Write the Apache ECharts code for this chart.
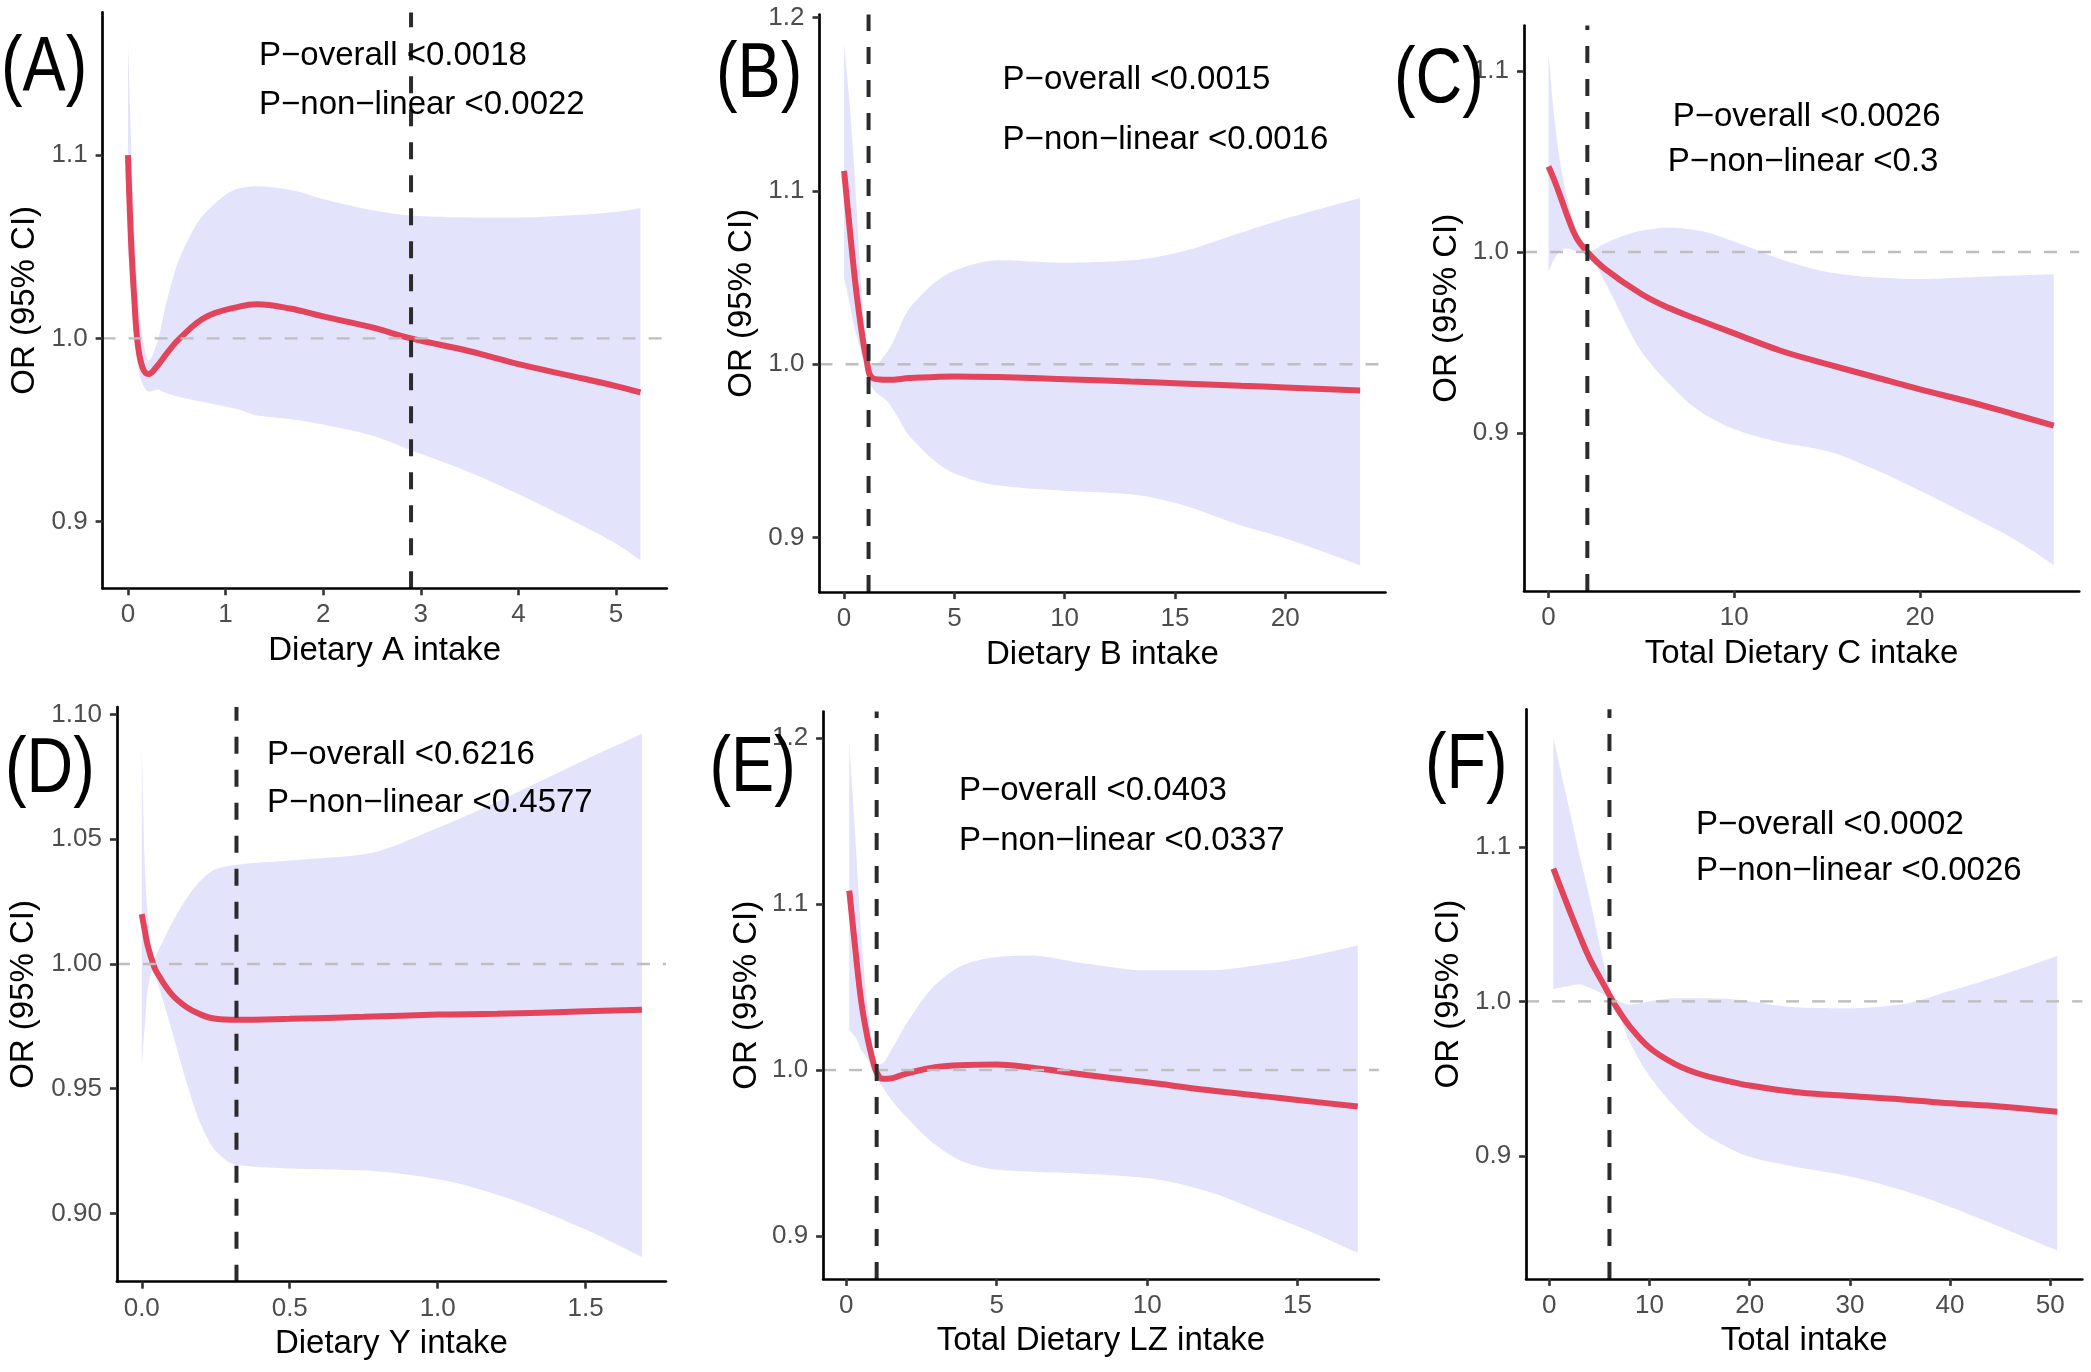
<!DOCTYPE html>
<html><head><meta charset="utf-8">
<script src="https://cdn.jsdelivr.net/npm/echarts@6/dist/echarts.min.js"></script>
<style>html,body{margin:0;padding:0;background:#fff}#c{width:2091px;height:1372px}</style>
</head><body><div id="c"></div>
<script>
// ---------- data ----------
// Panel A
const xA   = [0, 0.03, 0.065, 0.1, 0.15, 0.21, 0.3, 0.4, 0.53, 0.8, 1.15, 1.32, 1.66, 2.0, 2.5, 2.9, 3.5, 4.0, 4.5, 5.0, 5.25];
const fitA = [1.100, 1.055, 1.021, 0.997, 0.984, 0.9806, 0.985, 0.992, 1.000, 1.0117, 1.0175, 1.0186, 1.0163, 1.012, 1.006, 1.000, 0.993, 0.986, 0.980, 0.974, 0.9705];
const hiA  = [1.162, 1.11, 1.06, 1.025, 1.0, 0.988, 0.998, 1.021, 1.044, 1.069, 1.082, 1.083, 1.081, 1.076, 1.070, 1.067, 1.066, 1.066, 1.067, 1.069, 1.071];
const loA  = [1.05, 1.03, 1.005, 0.985, 0.975, 0.971, 0.972, 0.970, 0.968, 0.965, 0.961, 0.958, 0.956, 0.953, 0.947, 0.939, 0.927, 0.915, 0.902, 0.888, 0.879];
const cutA = 2.9;
// Panel B
const xB   = [0, 0.25, 0.5, 0.75, 1.0, 1.3, 2, 3, 5, 7, 10, 13, 15, 18, 20, 23.4];
const fitB = [1.1116, 1.079, 1.048, 1.023, 1.004, 0.992, 0.991, 0.992, 0.993, 0.9926, 0.9914, 0.990, 0.9891, 0.9876, 0.9866, 0.9848];
const hiB  = [1.185, 1.15, 1.105, 1.05, 1.01, 0.999, 1.008, 1.033, 1.054, 1.06, 1.0586, 1.06, 1.064, 1.076, 1.084, 1.096];
const loB  = [1.05, 1.035, 1.02, 1.008, 0.996, 0.986, 0.978, 0.958, 0.937, 0.930, 0.927, 0.925, 0.920, 0.907, 0.8995, 0.884];
const cutB = 1.11;
// Panel C
const xC   = [0, 0.3, 0.7, 1.0, 1.5, 2.09, 3, 5, 6.5, 8, 10, 12.5, 15, 17.5, 20, 22.5, 25, 27.2];
const fitC = [1.0473, 1.040, 1.029, 1.0203, 1.008, 1.000, 0.991, 0.9768, 0.969, 0.9628, 0.955, 0.9454, 0.938, 0.931, 0.924, 0.9176, 0.9104, 0.904];
const hiC  = [1.110, 1.075, 1.045, 1.030, 1.012, 1.000, 1.0046, 1.0118, 1.0135, 1.012, 1.0058, 0.996, 0.989, 0.986, 0.985, 0.986, 0.987, 0.9877];
const loC  = [0.989, 0.996, 1.001, 1.002, 1.0005, 0.9995, 0.984, 0.945, 0.927, 0.913, 0.902, 0.8947, 0.8899, 0.880, 0.868, 0.855, 0.8415, 0.827];
const cutC = 2.09;
// Panel D
const xD   = [0, 0.01, 0.02, 0.04, 0.05, 0.1, 0.15, 0.2, 0.25, 0.32, 0.5, 0.75, 1.0, 1.2, 1.5, 1.69];
const fitD = [1.020, 1.0135, 1.0074, 0.9995, 0.9968, 0.988, 0.9828, 0.9797, 0.978, 0.9776, 0.978, 0.9788, 0.9797, 0.980, 0.981, 0.9816];
const hiD  = [1.086, 1.04, 1.02, 1.002, 1.004, 1.016, 1.026, 1.0336, 1.038, 1.0398, 1.0415, 1.044, 1.0546, 1.065, 1.082, 1.0923];
const loD  = [0.960, 0.975, 0.990, 0.998, 0.994, 0.974, 0.953, 0.9356, 0.925, 0.9194, 0.918, 0.9172, 0.9137, 0.9075, 0.8935, 0.8825];
const cutD = 0.32;
// Panel E
const xE   = [0.1, 0.3, 0.5, 0.7, 0.9, 1.0, 1.2, 1.5, 2, 3, 4, 5, 6, 8, 10, 12, 14, 15, 17];
const fitE = [1.108, 1.073, 1.041, 1.020, 1.0045, 0.999, 0.9947, 0.995, 0.9979, 1.0018, 1.003, 1.0033, 1.0018, 0.997, 0.9926, 0.988, 0.984, 0.982, 0.978];
const hiE  = [1.197, 1.14, 1.08, 1.04, 1.012, 1.003, 1.004, 1.012, 1.028, 1.052, 1.064, 1.068, 1.069, 1.064, 1.060, 1.060, 1.064, 1.067, 1.075];
const loE  = [1.024, 1.02, 1.012, 1.007, 0.999, 0.995, 0.990, 0.982, 0.9716, 0.9545, 0.944, 0.940, 0.939, 0.9375, 0.935, 0.927, 0.913, 0.906, 0.890];
const cutE = 1.01;
// Panel F
const xF   = [0.4, 2, 3, 4, 5.5, 6.5, 8, 10, 12.5, 15, 17.5, 20, 25, 30, 35, 40, 45, 50.7];
const fitF = [1.0859, 1.059, 1.043, 1.028, 1.010, 0.9983, 0.984, 0.970, 0.9596, 0.953, 0.9489, 0.9455, 0.941, 0.9387, 0.9367, 0.934, 0.932, 0.9285];
const hiF  = [1.1706, 1.124, 1.095, 1.0675, 1.023, 1.002, 0.998, 1.000, 1.002, 1.002, 1.0017, 1.000, 0.996, 0.9955, 0.998, 1.0068, 1.0167, 1.0294];
const loF  = [1.008, 1.010, 1.011, 1.0088, 1.004, 0.9975, 0.974, 0.9517, 0.932, 0.9164, 0.9065, 0.8994, 0.8924, 0.8867, 0.8782, 0.867, 0.854, 0.8387];
const cutF = 6.0;

const REF_OR = 1.0;

// tick labels
const xTicksA = [0, 1, 2, 3, 4, 5];
const xTicksB = [0, 5, 10, 15, 20];
const xTicksC = [0, 10, 20];
const xTicksD = [0.0, 0.5, 1.0, 1.5];
const xTicksE = [0, 5, 10, 15];
const xTicksF = [0, 10, 20, 30, 40, 50];
const yTicksA = [0.9, 1.0, 1.1];
const yTicksB = [0.9, 1.0, 1.1, 1.2];
const yTicksC = [0.9, 1.0, 1.1];
const yTicksD = [0.90, 0.95, 1.00, 1.05, 1.10];
const yTicksE = [0.9, 1.0, 1.1, 1.2];
const yTicksF = [0.9, 1.0, 1.1];

// texts
const xNames = ['Dietary A intake', 'Dietary B intake', 'Total Dietary C intake', 'Dietary Y intake', 'Total Dietary LZ intake', 'Total intake'];
const yName = 'OR (95% CI)';
const panelTags = ['(A)', '(B)', '(C)', '(D)', '(E)', '(F)'];
const pOverall = ['P\u2212overall <0.0018', 'P\u2212overall <0.0015', 'P\u2212overall <0.0026', 'P\u2212overall <0.6216', 'P\u2212overall <0.0403', 'P\u2212overall <0.0002'];
const pNonLinear = ['P\u2212non\u2212linear <0.0022', 'P\u2212non\u2212linear <0.0016', 'P\u2212non\u2212linear <0.3', 'P\u2212non\u2212linear <0.4577', 'P\u2212non\u2212linear <0.0337', 'P\u2212non\u2212linear <0.0026'];

// ---------- layout / style ----------
const FONT = "'Liberation Sans', Arial, Helvetica, sans-serif";
const RIBBON = '#E3E3FB';
const RED = '#E2445C';
const SMOOTH = 0.4;

const panels = [
  { x:xA, fit:fitA, hi:hiA, lo:loA, cut:cutA, xt:xTicksA, yt:yTicksA, xd:0, yd:1,
    g:[102.6, 12.4, 564.2, 575.9], xr:[-0.26, 5.52], yr:[0.8637, 1.1778], yGap:61,
    tag:[1, 69.5], p1:[259, 56.3], p2:[259, 105] },
  { x:xB, fit:fitB, hi:hiB, lo:loB, cut:cutB, xt:xTicksB, yt:yTicksB, xd:0, yd:1,
    g:[819.5, 14.6, 566, 577.5], xr:[-1.115, 24.55], yr:[0.8685, 1.2018], yGap:61,
    tag:[716, 76], p1:[1002.6, 80.3], p2:[1002.6, 140.3] },
  { x:xC, fit:fitC, hi:hiC, lo:loC, cut:cutC, xt:xTicksC, yt:yTicksC, xd:0, yd:1,
    g:[1524, 25.5, 555.2, 565.5], xr:[-1.32, 28.57], yr:[0.8125, 1.1253], yGap:61,
    tag:[1394, 80.3], p1:[1672.7, 117.2], p2:[1667.8, 162] },
  { x:xD, fit:fitD, hi:hiD, lo:loD, cut:cutD, xt:xTicksD, yt:yTicksD, xd:1, yd:2,
    g:[116.9, 707.1, 549, 574.6], xr:[-0.084, 1.771], yr:[0.8726, 1.103], yGap:76,
    tag:[5, 770.6], p1:[267, 755.4], p2:[267, 803.2] },
  { x:xE, fit:fitE, hi:hiE, lo:loE, cut:cutE, xt:xTicksE, yt:yTicksE, xd:0, yd:1,
    g:[823.1, 711.5, 555.7, 567.4], xr:[-0.77, 17.70], yr:[0.8743, 1.2158], yGap:60,
    tag:[709.5, 769.5], p1:[958.9, 791], p2:[958.9, 841] },
  { x:xF, fit:fitF, hi:hiF, lo:loF, cut:cutF, xt:xTicksF, yt:yTicksF, xd:0, yd:1,
    g:[1526.1, 709.3, 556.2, 569.6], xr:[-2.32, 53.2], yr:[0.8204, 1.189], yGap:61,
    tag:[1425, 766.3], p1:[1695.9, 825], p2:[1695.9, 870.6] }
];

const pairs = (xs, ys) => xs.map((x, k) => [x, ys[k]]);

// Monotone cubic (Fritsch-Carlson) rendering of a projected boundary in pixel space.
function smoothEdge(pts) {
  const n = pts.length;
  if (n < 3) return pts.slice();
  const d = [], m = new Array(n);
  for (let k = 0; k < n - 1; k++) {
    d.push((pts[k + 1][1] - pts[k][1]) / (pts[k + 1][0] - pts[k][0]));
  }
  m[0] = d[0]; m[n - 1] = d[n - 2];
  for (let k = 1; k < n - 1; k++) {
    m[k] = (d[k - 1] * d[k] <= 0) ? 0 : 2 * d[k - 1] * d[k] / (d[k - 1] + d[k]);
  }
  const out = [pts[0]];
  const STEPS = 10;
  for (let k = 0; k < n - 1; k++) {
    const x0 = pts[k][0], y0 = pts[k][1], x1 = pts[k + 1][0], y1 = pts[k + 1][1], h = x1 - x0;
    for (let s = 1; s <= STEPS; s++) {
      const t = s / STEPS, t2 = t * t, t3 = t2 * t;
      const h00 = 2 * t3 - 3 * t2 + 1, h10 = t3 - 2 * t2 + t, h01 = -2 * t3 + 3 * t2, h11 = t3 - t2;
      out.push([x0 + t * h, h00 * y0 + h10 * h * m[k] + h01 * y1 + h11 * h * m[k + 1]]);
    }
  }
  return out;
}

const grids = [], xAxes = [], yAxes = [], series = [], texts = [];
panels.forEach((p, i) => {
  grids.push({ left:p.g[0], top:p.g[1], width:p.g[2], height:p.g[3], containLabel:false, outerBoundsMode:'none' });
  xAxes.push({
    type:'value', gridIndex:i, min:p.xr[0], max:p.xr[1], z:10,
    axisLine:{ show:true, onZero:false, lineStyle:{ color:'#000', width:2.7 } },
    axisTick:{ show:true, length:7, customValues:p.xt, lineStyle:{ color:'#333', width:2.6 } },
    axisLabel:{ show:true, customValues:p.xt, formatter:v => Number(v).toFixed(p.xd), color:'#4D4D4D', fontSize:26, fontFamily:FONT, margin:14 },
    splitLine:{ show:false },
    name:xNames[i], nameLocation:'middle', nameGap:46, nameMoveOverlap:false,
    nameTextStyle:{ fontSize:33, color:'#000', fontFamily:FONT }
  });
  yAxes.push({
    type:'value', gridIndex:i, min:p.yr[0], max:p.yr[1], z:10,
    axisLine:{ show:true, onZero:false, lineStyle:{ color:'#000', width:2.7 } },
    axisTick:{ show:true, length:7, customValues:p.yt, lineStyle:{ color:'#333', width:2.6 } },
    axisLabel:{ show:true, customValues:p.yt, formatter:v => Number(v).toFixed(p.yd), color:'#4D4D4D', fontSize:26, fontFamily:FONT, margin:15 },
    splitLine:{ show:false },
    name:yName, nameLocation:'middle', nameGap:p.yGap, nameRotate:90, nameMoveOverlap:false,
    nameTextStyle:{ fontSize:33, color:'#000', fontFamily:FONT }
  });
  // 95% CI ribbon between lower and upper bounds
  series.push({
    type:'custom', xAxisIndex:i, yAxisIndex:i, data:[[p.x[0], p.lo[0]]], silent:true, z:1, animation:false,
    renderItem:(params, api) => {
      const up = smoothEdge(p.x.map((x, k) => api.coord([x, p.hi[k]])));
      const dn = smoothEdge(p.x.map((x, k) => api.coord([x, p.lo[k]]))).reverse();
      return { type:'polygon', shape:{ points: up.concat(dn) }, style:{ fill:RIBBON, stroke:null } };
    }
  });
  // fitted OR
  series.push({ type:'line', xAxisIndex:i, yAxisIndex:i, data:pairs(p.x, p.fit), symbol:'none', showSymbol:false,
    smooth:SMOOTH, lineStyle:{ color:RED, width:6 }, silent:true, z:3, animation:false });
  // reference line OR = 1
  series.push({ type:'line', xAxisIndex:i, yAxisIndex:i, data:[[p.xr[0], REF_OR], [p.xr[1], REF_OR]], symbol:'none',
    lineStyle:{ color:'#BEBEBE', width:2.4, type:[13, 13] }, silent:true, z:4, animation:false });
  // cut-off vertical dashed line
  series.push({ type:'line', xAxisIndex:i, yAxisIndex:i, data:[[p.cut, p.yr[0]], [p.cut, p.yr[1]]], symbol:'none',
    lineStyle:{ color:'#2B2B2B', width:4, type:[17, 16] }, silent:true, z:5, animation:false });

  texts.push({ type:'text', x:p.tag[0], y:p.tag[1], scaleX:0.84, z:100,
    style:{ text:panelTags[i], fontSize:77, fontFamily:FONT, fill:'#000', align:'left', verticalAlign:'middle' } });
  texts.push({ type:'text', x:p.p1[0], y:p.p1[1], z:100,
    style:{ text:pOverall[i], fontSize:33, fontFamily:FONT, fill:'#000', align:'left', verticalAlign:'middle' } });
  texts.push({ type:'text', x:p.p2[0], y:p.p2[1], z:100,
    style:{ text:pNonLinear[i], fontSize:33, fontFamily:FONT, fill:'#000', align:'left', verticalAlign:'middle' } });
});

const chart = echarts.init(document.getElementById('c'), null, { renderer:'canvas', width:2091, height:1372 });
chart.setOption({
  backgroundColor:'#FFFFFF',
  animation:false,
  grid:grids, xAxis:xAxes, yAxis:yAxes, series:series,
  graphic:{ elements:texts }
});
</script>
</body></html>
